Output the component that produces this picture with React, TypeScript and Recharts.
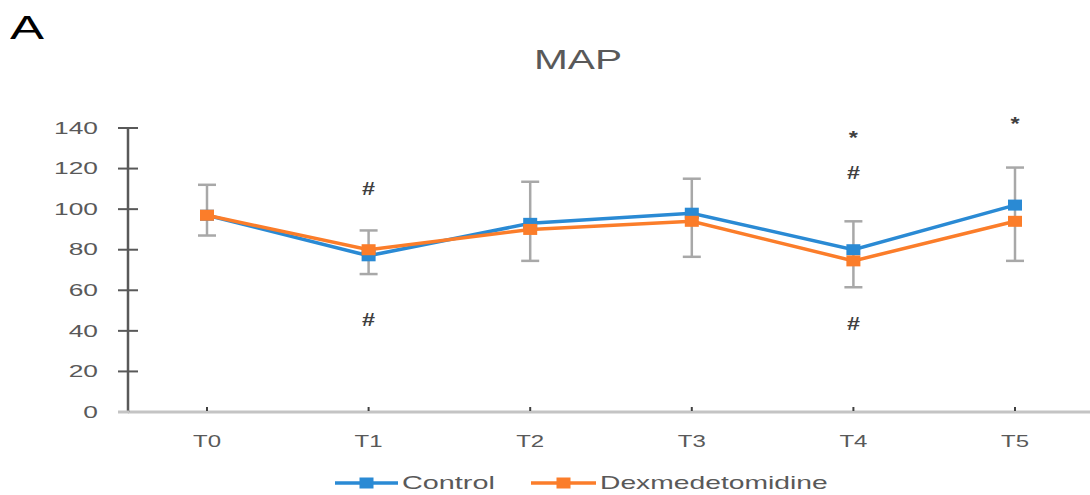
import React from 'react';
import { LineChart, Line, XAxis, YAxis, ErrorBar, ReferenceDot, Legend } from 'recharts';

// Mean arterial pressure per time point
const categories = ['T0', 'T1', 'T2', 'T3', 'T4', 'T5'];
const controlMap = [97, 77, 93, 98, 80, 102];
const dexMap = [97, 80, 90, 94, 74.5, 94];
// Extent of the error bars (lower and upper ends)
const errLow = [87, 68, 74.5, 76.5, 61.5, 74.5];
const errHigh = [112, 89.5, 113.5, 115, 94, 120.5];
// Significance marks
const markCats = ['T1', 'T1', 'T4', 'T4', 'T4', 'T5'];
const markValues = [110, 45.5, 137, 118, 43.5, 144];
const markTexts = ['#', '#', '*', '#', '#', '*'];
const yTicks = [0, 20, 40, 60, 80, 100, 120, 140];

const BLUE = '#2a8ad4';
const ORANGE = '#fb7d2a';
const TEXT = '#595959';
const FONT = '"Liberation Sans", Arial, sans-serif';

const data = categories.map((c, i) => ({
  name: c,
  control: controlMap[i],
  dex: dexMap[i],
  err: [controlMap[i] - errLow[i], errHigh[i] - controlMap[i]],
}));

const squareDot = (color: string) => (props: any) => {
  const { cx, cy, index } = props;
  if (cx == null || cy == null) return <g key={index} />;
  return <rect key={index} x={cx - 7} y={cy - 5.5} width={14} height={11} fill={color} />;
};

const YTick = (props: any) => {
  const { x, y, payload } = props;
  return (
    <g>
      {payload.value === 0 ? (
        <line x1={x - 10} x2={x + 1} y1={y} y2={y} stroke="#c4c4c4" strokeWidth={3} />
      ) : (
        <line x1={x - 10} x2={x + 10} y1={y} y2={y} stroke={TEXT} strokeWidth={2} />
      )}
      <text
        transform={`translate(${x - 30},${y}) scale(1.55,1)`}
        textAnchor="end"
        dominantBaseline="central"
        fontSize={17}
        fontFamily={FONT}
        fill={TEXT}
      >
        {payload.value}
      </text>
    </g>
  );
};

const XTick = (props: any) => {
  const { x, y, payload } = props;
  return (
    <g>
      <line x1={x} x2={x} y1={y - 5} y2={y - 1} stroke="#404040" strokeWidth={2} />
      <text
        transform={`translate(${x},${y + 30}) scale(1.5,1)`}
        textAnchor="middle"
        dominantBaseline="central"
        fontSize={16}
        fontFamily={FONT}
        fill={TEXT}
      >
        {payload.value}
      </text>
    </g>
  );
};

const markShape = (glyph: string) => (props: any) => {
  const { cx, cy } = props;
  const fs = 18;
  const dy = glyph === '*' ? 0.57 * fs : 0.36 * fs;
  return (
    <text
      transform={`translate(${cx},${cy + dy}) scale(1.3,1)`}
      textAnchor="middle"
      fontSize={fs}
      fontFamily={FONT}
      fontWeight="bold"
      fill="#404040"
    >
      {glyph}
    </text>
  );
};

const LegendContent = () => (
  <svg width={520} height={24} style={{ display: 'block' }}>
    <line x1={0} x2={63} y1={12} y2={12} stroke={BLUE} strokeWidth={3.5} />
    <rect x={24.5} y={6.5} width={14} height={11} fill={BLUE} />
    <text
      transform="translate(67,12) scale(1.6,1)"
      dominantBaseline="central"
      fontSize={18}
      fontFamily={FONT}
      fill={TEXT}
    >
      Control
    </text>
    <line x1={196} x2={261} y1={12} y2={12} stroke={ORANGE} strokeWidth={3.5} />
    <rect x={221.5} y={6.5} width={14} height={11} fill={ORANGE} />
    <text
      transform="translate(265,12) scale(1.57,1)"
      dominantBaseline="central"
      fontSize={18}
      fontFamily={FONT}
      fill={TEXT}
    >
      Dexmedetomidine
    </text>
  </svg>
);

export default function App() {
  return (
    <div
      style={{
        position: 'absolute',
        left: 0,
        top: 0,
        width: 1090,
        height: 495,
        overflow: 'hidden',
        background: '#fff',
        fontFamily: FONT,
      }}
    >
      <div
        style={{
          position: 'absolute',
          left: 10,
          top: 8,
          fontSize: 34,
          color: '#000',
          transform: 'scaleX(1.5)',
          transformOrigin: 'left top',
        }}
      >
        A
      </div>
      <div
        style={{
          position: 'absolute',
          left: 578,
          top: 44,
          fontSize: 28,
          color: TEXT,
          transform: 'translateX(-50%) scaleX(1.45)',
          whiteSpace: 'nowrap',
        }}
      >
        MAP
      </div>
      <LineChart
        width={1100}
        height={495}
        data={data}
        margin={{ top: 128, right: 4, bottom: 19, left: 68 }}
      >
        <XAxis
          dataKey="name"
          height={40}
          padding={{ left: 79, right: 81 }}
          axisLine={{ stroke: '#c4c4c4', strokeWidth: 3 }}
          tickLine={false}
          tickSize={0}
          tickMargin={0}
          tick={<XTick />}
          interval={0}
        />
        <YAxis
          width={60}
          domain={[0, 140]}
          ticks={yTicks}
          axisLine={{ stroke: TEXT, strokeWidth: 2.5 }}
          tickLine={false}
          tickSize={0}
          tickMargin={0}
          tick={<YTick />}
          interval={0}
        />
        <Line
          dataKey="control"
          stroke={BLUE}
          strokeWidth={3.5}
          type="linear"
          dot={squareDot(BLUE)}
          activeDot={false}
          isAnimationActive={false}
        >
          <ErrorBar dataKey="err" width={9} stroke="#a8a8a8" strokeWidth={2.5} direction="y" isAnimationActive={false} />
        </Line>
        <Line
          dataKey="dex"
          stroke={ORANGE}
          strokeWidth={3.5}
          type="linear"
          dot={squareDot(ORANGE)}
          activeDot={false}
          isAnimationActive={false}
        />
        {markCats.map((c, i) => (
          <ReferenceDot
            key={i}
            x={c}
            y={markValues[i]}
            r={0}
            ifOverflow="visible"
            shape={markShape(markTexts[i])}
          />
        ))}
        <Legend
          verticalAlign="bottom"
          content={<LegendContent />}
          wrapperStyle={{ left: 335, top: 471, bottom: 'auto', width: 520, height: 24 }}
        />
      </LineChart>
    </div>
  );
}
